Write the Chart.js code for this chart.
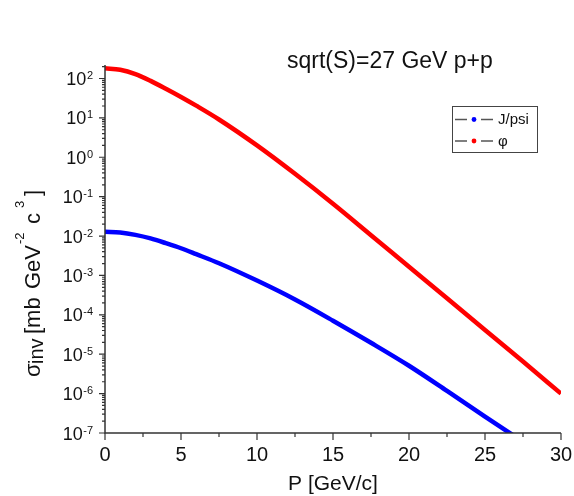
<!DOCTYPE html>
<html>
<head>
<meta charset="utf-8">
<title>Invariant cross section vs P</title>
<script src="https://cdn.jsdelivr.net/npm/chart.js@4"></script>
<style>
  html, body { margin: 0; padding: 0; background: #fff; }
  canvas { display: block; }
</style>
</head>
<body>
<canvas id="xsecChart" width="574" height="496"></canvas>
<script>
// momentum grid [GeV/c] and invariant cross sections [mb GeV^-2 c^3]
const pValues = [0, 1, 2, 3, 4, 5, 6, 7.5, 10, 12.5, 15, 17.5, 20, 22.5, 25, 27.5, 30];
const jpsiValues = [0.0129, 0.0123, 0.0107, 8.7e-3, 6.6e-3, 4.9e-3, 3.47e-3, 2.04e-3, 7.4e-4,
                    2.45e-4, 7.1e-5, 1.95e-5, 5.1e-6, 1.17e-6, 2.6e-7, 6.0e-8, 1.4e-8];
const phiValues = [182, 166, 129, 87, 55, 34, 20.4, 9.1, 2.0, 0.38, 0.066, 0.0105, 1.66e-3,
                   2.63e-4, 4.1e-5, 6.5e-6, 1.0e-6];

const seriesLabels = ['J/psi', 'φ'];
const seriesColors = ['#0000ff', '#ff0000'];

// axis ticks
const xMajorTicks = [0, 5, 10, 15, 20, 25, 30];
const xMinorTicks = [2.5, 7.5, 12.5, 17.5, 22.5, 27.5];
const yExponents = [-7, -6, -5, -4, -3, -2, -1, 0, 1, 2];

const titleText = 'sqrt(S)=27 GeV p+p';
const xAxisTitle = 'P [GeV/c]';

const FONT = '"Liberation Sans", Arial, sans-serif';
const AXIS_COLOR = '#333';

const toPoints = vals => pValues.map((p, i) => ({ x: p, y: vals[i] }));

// axes, ticks, labels and legend drawn on top of the scales
const decorations = {
  id: 'decorations',
  afterDraw(chart) {
    const { ctx, chartArea: area } = chart;
    const xs = chart.scales.x, ys = chart.scales.y;
    ctx.save();
    ctx.strokeStyle = AXIS_COLOR;
    ctx.fillStyle = '#111';
    ctx.lineWidth = 1.5;

    // axis lines
    ctx.beginPath();
    ctx.moveTo(area.left, area.top);
    ctx.lineTo(area.left, area.bottom);
    ctx.lineTo(area.right, area.bottom);
    ctx.stroke();

    // y ticks: decades plus 2..9 minors
    ctx.lineWidth = 1.2;
    ctx.beginPath();
    yExponents.forEach(e => {
      const y = ys.getPixelForValue(Math.pow(10, e));
      ctx.moveTo(area.left, y); ctx.lineTo(area.left - 6, y);
      for (let m = 2; m <= 9; m++) {
        const v = m * Math.pow(10, e);
        if (v > ys.max) break;
        const ym = ys.getPixelForValue(v);
        ctx.moveTo(area.left, ym); ctx.lineTo(area.left - 3, ym);
      }
    });
    // x ticks
    xMajorTicks.forEach(t => {
      const x = xs.getPixelForValue(t);
      ctx.moveTo(x, area.bottom); ctx.lineTo(x, area.bottom + 7);
    });
    xMinorTicks.forEach(t => {
      const x = xs.getPixelForValue(t);
      ctx.moveTo(x, area.bottom); ctx.lineTo(x, area.bottom + 4);
    });
    ctx.stroke();

    // y tick labels 10^n
    ctx.textBaseline = 'alphabetic';
    yExponents.forEach(e => {
      const y = ys.getPixelForValue(Math.pow(10, e));
      const sup = String(e);
      ctx.font = '11px ' + FONT;
      const supW = ctx.measureText(sup).width;
      const right = area.left - 12;
      ctx.textAlign = 'left';
      ctx.fillText(sup, right - supW, y + 0.5);
      ctx.font = '18px ' + FONT;
      ctx.textAlign = 'right';
      ctx.fillText('10', right - supW - 0.5, y + 6.5);
    });

    // x tick labels
    ctx.font = '20px ' + FONT;
    ctx.textAlign = 'center';
    xMajorTicks.forEach(t => {
      ctx.fillText(String(t), xs.getPixelForValue(t), area.bottom + 28);
    });

    // x axis title
    ctx.font = '21px ' + FONT;
    ctx.fillText(xAxisTitle, (area.left + area.right) / 2, 490);

    // plot title
    ctx.font = '23px ' + FONT;
    ctx.textAlign = 'left';
    ctx.fillText(titleText, 287, 68);

    // y axis title: σ_inv [mb GeV^-2 c^3], rotated; each piece starts at a
    // given height along the axis, dy shifts it for sub/superscripts
    const parts = [
      { t: 'σ', size: 22, at: 377, dy: 0 },
      { t: 'inv', size: 20, at: 364, dy: 3 },
      { t: '[mb', size: 22, at: 334, dy: 0 },
      { t: 'GeV', size: 22, at: 289, dy: 0 },
      { t: '-2', size: 13, at: 244, dy: -16 },
      { t: 'c', size: 22, at: 224, dy: 0 },
      { t: '3', size: 13, at: 208, dy: -16 },
      { t: ']', size: 22, at: 196, dy: 0 }
    ];
    ctx.translate(40, 0);
    ctx.rotate(-Math.PI / 2);
    ctx.textAlign = 'left';
    parts.forEach(p => {
      ctx.font = p.size + 'px ' + FONT;
      ctx.fillText(p.t, -p.at, p.dy);
    });
    ctx.setTransform(1, 0, 0, 1, 0, 0);

    // legend box
    const box = { x: 452.5, y: 106.5, w: 85, h: 46 };
    ctx.strokeStyle = '#444';
    ctx.lineWidth = 1;
    ctx.strokeRect(box.x, box.y, box.w, box.h);
    chart.data.datasets.forEach((ds, i) => {
      const ry = 119.5 + i * 21.5;
      ctx.strokeStyle = '#555';
      ctx.lineWidth = 1.3;
      ctx.beginPath();
      ctx.moveTo(455, ry); ctx.lineTo(467, ry);
      ctx.moveTo(481, ry); ctx.lineTo(493, ry);
      ctx.stroke();
      ctx.fillStyle = ds.borderColor;
      ctx.beginPath();
      ctx.arc(474, ry, 2.4, 0, Math.PI * 2);
      ctx.fill();
      ctx.fillStyle = '#111';
      ctx.font = '15px ' + FONT;
      ctx.textAlign = 'left';
      ctx.textBaseline = 'middle';
      ctx.fillText(ds.label, 498, ry + 0.5);
    });
    ctx.restore();
  }
};

new Chart(document.getElementById('xsecChart'), {
  type: 'line',
  data: {
    datasets: [
      { label: seriesLabels[0], data: toPoints(jpsiValues), borderColor: seriesColors[0] },
      { label: seriesLabels[1], data: toPoints(phiValues), borderColor: seriesColors[1] }
    ]
  },
  options: {
    responsive: false,
    animation: false,
    devicePixelRatio: 1,
    layout: { padding: { left: 105, top: 65, right: 13, bottom: 63 } },
    elements: {
      line: { borderWidth: 4.5, cubicInterpolationMode: 'monotone', fill: false },
      point: { radius: 0, hoverRadius: 0 }
    },
    scales: {
      x: { type: 'linear', min: 0, max: 30, display: false },
      y: { type: 'logarithmic', min: 1e-7, max: 220, display: false }
    },
    plugins: {
      legend: { display: false },
      tooltip: { enabled: false }
    }
  },
  plugins: [decorations]
});
</script>
</body>
</html>
